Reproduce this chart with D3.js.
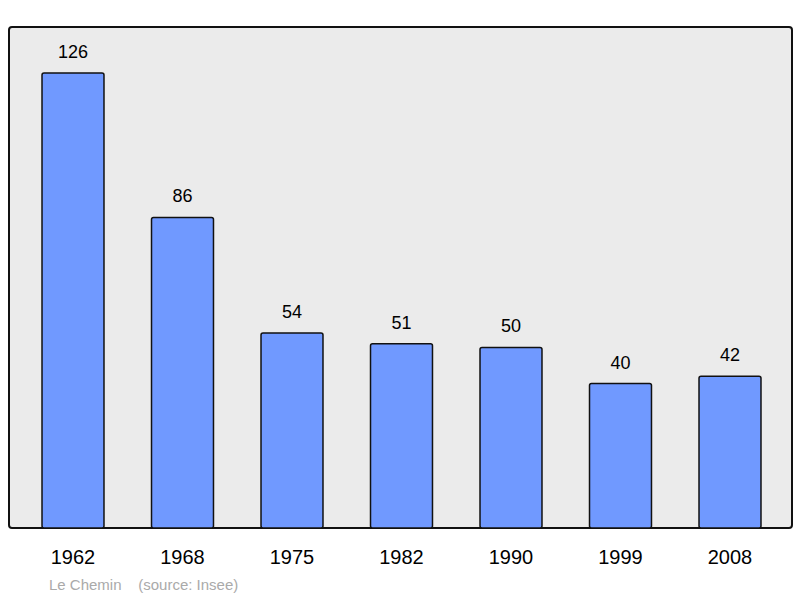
<!DOCTYPE html>
<html>
<head>
<script src="https://cdn.jsdelivr.net/npm/d3@7"></script>
<style>body{margin:0;background:#fff}</style>
</head>
<body>
<svg id="chart" width="800" height="598"></svg>
<script>
var years = ["1962","1968","1975","1982","1990","1999","2008"];
var population = [126,86,54,51,50,40,42];

var svg = d3.select("#chart");
var baseY = 528, topY = 73;

svg.append("rect").attr("x",9).attr("y",27).attr("width",783).attr("height",501)
  .attr("rx",3).attr("fill","#ebebeb").attr("stroke","#111").attr("stroke-width",2);

var x = d3.scaleBand().domain(years).range([18.25,784.75]).paddingInner(0.434).paddingOuter(0.217);
var y = d3.scaleLinear().domain([0,126]).range([baseY,topY]);

svg.selectAll("rect.bar").data(population).enter().append("rect").attr("class","bar")
  .attr("x",function(d,i){return x(years[i]);})
  .attr("y",function(d){return y(d);})
  .attr("width",x.bandwidth())
  .attr("height",function(d){return baseY-y(d);})
  .attr("rx",2)
  .attr("fill","#7099ff").attr("stroke","#111").attr("stroke-width",1.5);

svg.selectAll("text.val").data(population).enter().append("text")
  .attr("x",function(d,i){return x(years[i])+x.bandwidth()/2;})
  .attr("y",function(d){return y(d)-15;})
  .attr("text-anchor","middle").attr("font-family","Liberation Sans, Arial, sans-serif")
  .attr("font-size",18).text(function(d){return d;});

svg.selectAll("text.yr").data(years).enter().append("text")
  .attr("x",function(d){return x(d)+x.bandwidth()/2;})
  .attr("y",564)
  .attr("text-anchor","middle").attr("font-family","Liberation Sans, Arial, sans-serif")
  .attr("font-size",20).text(function(d){return d;});

svg.append("text").attr("x",49).attr("y",590).attr("fill","#aaa")
  .attr("font-family","Liberation Sans, Arial, sans-serif").attr("font-size",15)
  .attr("xml:space","preserve").style("white-space","pre")
  .text("Le Chemin    (source: Insee)");
</script>
</body>
</html>
